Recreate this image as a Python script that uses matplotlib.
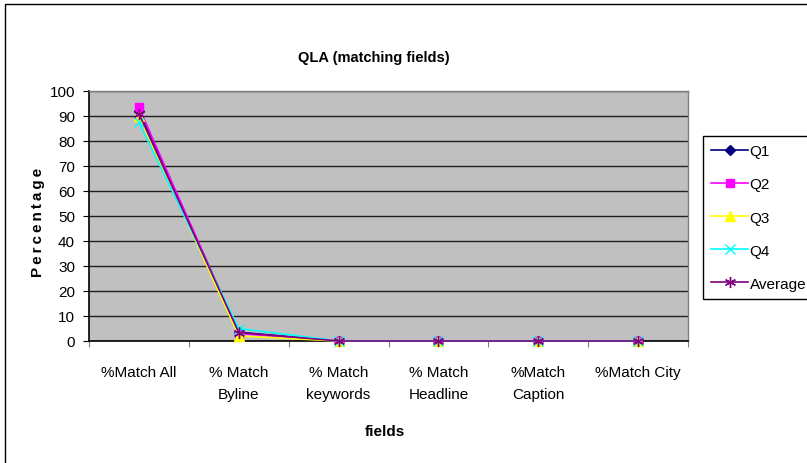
import matplotlib
matplotlib.use("Agg")
import matplotlib.pyplot as plt
from matplotlib.patches import Rectangle

plt.rcParams['font.family'] = ['Liberation Sans', 'DejaVu Sans']

categories = ["%Match All", "% Match\nByline", "% Match\nkeywords", "% Match\nHeadline", "%Match\nCaption", "%Match City"]
q1 = [92, 3.5, 0, 0, 0, 0]
q2 = [93.5, 3, 0, 0, 0, 0]
q3 = [90, 2, 0, 0, 0, 0]
q4 = [87.5, 5, 0, 0, 0, 0]
avg = [91, 3.4, 0, 0, 0, 0]

W, H = 807, 464
fig = plt.figure(figsize=(W/100, H/100), dpi=100)
fig.patch.set_facecolor('white')
fig.add_artist(Rectangle((5/W, -0.2), 1.2, 1.2 - 5/H, transform=fig.transFigure,
                         fill=False, edgecolor='black', linewidth=1.0))

ax = fig.add_axes([89/W, 1 - 342/H, (688-89)/W, (342-92)/H])
ax.set_facecolor('#C0C0C0')
x = list(range(len(categories)))
series = [
    ("Q1", q1, '#000080', 'D', 5, '#000080'),
    ("Q2", q2, '#FF00FF', 's', 6, '#FF00FF'),
    ("Q3", q3, '#FFFF00', '^', 7, '#FFFF00'),
    ("Q4", q4, '#00FFFF', 'x', 7, '#00FFFF'),
    ("Average", avg, '#800080', (6, 2, 0), 8, '#800080'),
]
for name, vals, col, mk, ms, mc in series:
    ax.plot(x, vals, color=col, marker=mk, markersize=ms, linewidth=1.2,
            markerfacecolor=mc, markeredgecolor=mc, label=name, clip_on=False, zorder=3)

ax.set_xlim(-0.5, len(categories) - 0.5)
ax.set_ylim(0, 100)
ax.set_yticks(range(0, 101, 10))
ax.yaxis.grid(True, color='#202020', linewidth=1.0)
ax.set_axisbelow(True)
ax.set_xticks([i + 0.5 for i in range(-1, len(categories))], minor=False)
ax.set_xticklabels([])
ax.set_xticks(x, minor=True)
ax.set_xticklabels(categories, minor=True, fontsize=11, linespacing=1.8)
ax.tick_params(axis='x', which='minor', length=0, pad=17)
ax.tick_params(axis='x', which='major', length=4, color='#808080')
ax.tick_params(axis='y', length=4, labelsize=11, pad=6)
for s in ['left', 'bottom']:
    ax.spines[s].set_color('black')
    ax.spines[s].set_linewidth(1.2)
for s in ['top', 'right']:
    ax.spines[s].set_color('#808080')
    ax.spines[s].set_linewidth(1.0)

fig.text(374/W, 1 - 58/H, "QLA (matching fields)", ha='center', va='center',
         fontsize=10.5, fontweight='bold')
fig.text(38/W, 1 - 222/H, "\u2009".join("Percentage"), ha='center', va='center',
         rotation=90, fontsize=11, fontweight='bold')
fig.text(385/W, 1 - 432/H, "fields", ha='center', va='center',
         fontsize=11, fontweight='bold')

leg = fig.legend(loc='upper left', bbox_to_anchor=(703/W, 1 - 137/H), fontsize=11,
                 frameon=True, fancybox=False, edgecolor='black', framealpha=1,
                 handlelength=2.4, handletextpad=0.1, labelspacing=1.25,
                 borderpad=0.55, borderaxespad=0)
leg.get_frame().set_linewidth(1.0)

fig.savefig("out.png", dpi=100)
